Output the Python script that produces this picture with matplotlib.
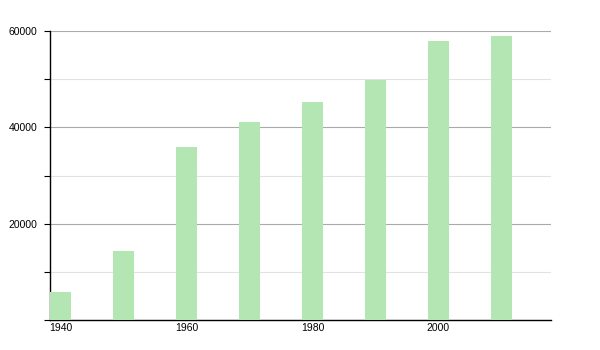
import numpy as np
import matplotlib.pyplot as plt
from matplotlib.ticker import MultipleLocator

years = [1940, 1950, 1960, 1970, 1980, 1990, 2000, 2010]
population = [5800, 14300, 35900, 41100, 45300, 49800, 57900, 59000]
year_ticks = [1940, 1960, 1980, 2000]
pop_ticks = [20000, 40000, 60000]

plt.rcParams['font.family'] = ['Liberation Sans', 'DejaVu Sans']

fig = plt.figure(figsize=(6, 3.5), dpi=100)
ax = fig.add_axes([50/600, 30/350, 501/600, 289/350])

ax.bar(years, population, width=3.25, color='#b3e6b3', zorder=3)

ax.set_xlim(1938.33, 2017.86)
ax.set_ylim(0, 60000)

ax.set_yticks(pop_ticks)
ax.yaxis.set_minor_locator(MultipleLocator(10000))
ax.set_xticks(year_ticks)
ax.set_xticklabels([str(y) for y in year_ticks])

ax.grid(axis='y', which='major', color='#aaaaaa', linewidth=0.8, zorder=0)
ax.grid(axis='y', which='minor', color='#e2e2e2', linewidth=0.8, zorder=0)

ax.tick_params(axis='y', which='both', length=4, width=0.8, pad=5, labelsize=7.5)
ax.tick_params(axis='x', length=0, pad=2, labelsize=7.5)

for s in ['top', 'right']:
    ax.spines[s].set_visible(False)
ax.spines['left'].set_linewidth(1.0)
ax.spines['bottom'].set_linewidth(1.0)

fig.savefig('out.png', dpi=100)
